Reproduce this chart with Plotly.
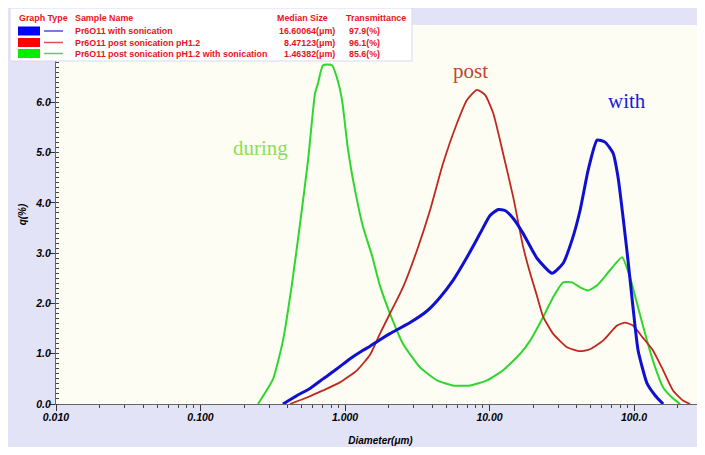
import plotly.graph_objects as go

# ---------------- data ----------------
with_x = [0.372, 0.466, 0.573, 0.705, 0.881, 1.083, 1.333, 1.49, 1.746, 2.047, 2.82, 3.69, 4.54, 5.59,
          6.98, 8.59, 10.08, 11.5, 12.8, 14.6, 17.1, 21.3, 27.1, 32.3, 37.2, 42.3, 48.1, 55.5, 63.0,
          71.6, 77.5, 83.9, 90.8, 98.4, 106.6, 123, 140, 159]
with_y = [0.0, 0.17, 0.31, 0.5, 0.7, 0.9, 1.07, 1.15, 1.28, 1.4, 1.62, 1.85, 2.12, 2.46,
          2.92, 3.39, 3.75, 3.87, 3.85, 3.69, 3.39, 2.9, 2.6, 2.8, 3.26, 3.85, 4.65, 5.25, 5.21,
          4.99, 4.51, 3.72, 2.86, 1.92, 1.07, 0.41, 0.17, 0.0]

post_x = [0.416, 0.546, 0.705, 0.923, 1.21, 1.49, 1.746, 2.047, 2.518, 3.15, 3.87, 4.77, 5.96, 6.98,
          8.19, 9.31, 10.6, 12.4, 14.6, 17.1, 19.1, 21.3, 23.4, 27.5, 34.4, 42.3, 49.6, 61.0, 76.3,
          86.7, 98.4, 115, 135, 159, 186, 218, 244]
post_y = [0.0, 0.13, 0.27, 0.43, 0.67, 0.98, 1.4, 1.8, 2.32, 3.06, 3.85, 4.79, 5.59, 6.05,
          6.25, 6.15, 5.79, 4.99, 4.11, 3.12, 2.6, 2.15, 1.75, 1.4, 1.13, 1.05, 1.09, 1.26, 1.56,
          1.62, 1.56, 1.32, 1.07, 0.67, 0.27, 0.07, 0.0]

during_x = [0.25, 0.318, 0.372, 0.43, 0.489, 0.555, 0.62, 0.65, 0.705, 0.813, 0.881, 0.953, 1.05,
            1.173, 1.333, 1.538, 1.746, 2.047, 2.518, 3.30, 4.33, 5.59, 7.33, 9.61, 12.4, 16.3,
            19.1, 23.4, 27.5, 32.3, 37.2, 42.3, 48.1, 55.5, 68.2, 82.6, 93.8, 106.6, 123, 140,
            159, 183, 208]
during_y = [0.0, 0.5, 1.26, 2.4, 3.6, 4.85, 6.18, 6.38, 6.74, 6.74, 6.48, 6.05, 5.05,
            4.25, 3.52, 2.95, 2.35, 1.8, 1.2, 0.73, 0.47, 0.37, 0.37, 0.47, 0.67, 1.0,
            1.26, 1.72, 2.12, 2.42, 2.42, 2.32, 2.26, 2.36, 2.66, 2.92, 2.52, 1.92, 1.26, 0.73,
            0.33, 0.13, 0.0]

x_tickvals = [0.01, 0.1, 1, 10, 100]
x_ticktext = ["0.010", "0.100", "1.000", "10.00", "100.0"]
y_tickvals = [0, 1, 2, 3, 4, 5, 6]
y_ticktext = ["0.0", "1.0", "2.0", "3.0", "4.0", "5.0", "6.0"]

legend_header = ["Graph Type", "Sample Name", "Median Size", "Transmittance"]
sample_names = ["Pr6O11 with sonication", "Pr6O11 post sonication pH1.2",
                "Pr6O11 post sonication pH1.2 with sonication"]
median_sizes = ["16.60064(μm)", "8.47123(μm)", "1.46382(μm)"]
transmittances = ["97.9(%)", "96.1(%)", "85.6(%)"]

# ---------------- layout geometry (page pixels; page has an 8px body margin) ----------------
OFF = 8
W, H = 697, 439
L, R, T, B = 56 - OFF, 0, 25 - OFF, H - (404 - OFF)
PW, PH = W - L - R, H - T - B

x_minor = [m * 10.0 ** e for e in range(-2, 3) for m in range(2, 10)]


def px(x):
    return (x - OFF - L) / PW


def py(y):
    return (H - B - (y - OFF)) / PH


fig = go.Figure()
fig.add_trace(go.Scatter(x=during_x, y=during_y, mode="lines",
                         line=dict(color="#2ed62e", width=2, shape="spline", smoothing=0.5)))
fig.add_trace(go.Scatter(x=post_x, y=post_y, mode="lines",
                         line=dict(color="#c0281e", width=1.8, shape="spline", smoothing=0.5)))
fig.add_trace(go.Scatter(x=with_x, y=with_y, mode="lines",
                         line=dict(color="#1010d0", width=3, shape="spline", smoothing=0.5)))

tick_font = dict(family="Liberation Sans, Arial", size=10.5, color="black", weight="bold", style="italic")
title_font = dict(family="Liberation Sans, Arial", size=10, color="black", weight="bold", style="italic")

fig.update_layout(
    width=W, height=H,
    margin=dict(l=L, r=R, t=T, b=B, pad=0, autoexpand=False),
    paper_bgcolor="#e3e3f7",
    plot_bgcolor="#fdfdf4",
    showlegend=False,
    xaxis=dict(type="log", range=[-2, 2.491], tickvals=x_tickvals, ticktext=x_ticktext,
               ticks="outside", ticklen=6, tickcolor="#333", showline=True, linecolor="#666",
               showgrid=False, zeroline=False, tickfont=tick_font, ticklabelstandoff=-3,
               minor=dict(tickmode="array", tickvals=x_minor, ticks="outside", ticklen=3,
                          tickcolor="#444", showgrid=False),
               title=dict(text="Diameter(μm)", font=title_font, standoff=15)),
    yaxis=dict(range=[0, 7.54], tickvals=y_tickvals, ticktext=y_ticktext,
               ticks="outside", ticklen=6, tickcolor="#333", showline=True, linecolor="#666",
               showgrid=False, zeroline=False, tickfont=tick_font, ticklabelstandoff=-4,
               minor=dict(tickmode="linear", tick0=0, dtick=0.1, ticks="inside", ticklen=3,
                          tickcolor="#444", showgrid=False),
               title=dict(text="q(%)", font=title_font, standoff=6)),
)

shapes = []
# legend box
shapes.append(dict(type="rect", xref="paper", yref="paper", x0=px(10), x1=px(412), y0=py(61), y1=py(8),
                   fillcolor="white", line=dict(color="#d8d8f0", width=1), layer="above"))
sw_colors = ["#0000ff", "#ff0000", "#00ee00"]
ln_colors = ["#5050c8", "#e05050", "#50d850"]
row_y = [31, 42.5, 53.5]
for c, lc, ry in zip(sw_colors, ln_colors, row_y):
    shapes.append(dict(type="rect", xref="paper", yref="paper", x0=px(18), x1=px(40),
                       y0=py(ry + 4.5), y1=py(ry - 4.5), fillcolor=c, line=dict(width=0), layer="above"))
    shapes.append(dict(type="line", xref="paper", yref="paper", x0=px(44), x1=px(63),
                       y0=py(ry), y1=py(ry), line=dict(color=lc, width=1.5), layer="above"))
fig.update_layout(shapes=shapes)

leg_font = dict(family="Liberation Sans, Arial", size=8.9, color="#e8141c", weight="bold")
ann = []
header_x = [17, 73, 275, 344]
for txt, hx in zip(legend_header, header_x):
    ann.append(dict(text=txt, x=px(hx), y=py(18), xref="paper", yref="paper", xanchor="left",
                    yanchor="middle", showarrow=False, font=leg_font))
for name, med, tr, ry in zip(sample_names, median_sizes, transmittances, row_y):
    ann.append(dict(text=name, x=px(73), y=py(ry), xref="paper", yref="paper", xanchor="left",
                    yanchor="middle", showarrow=False, font=leg_font))
    ann.append(dict(text=med, x=px(337), y=py(ry), xref="paper", yref="paper", xanchor="right",
                    yanchor="middle", showarrow=False, font=leg_font))
    ann.append(dict(text=tr, x=px(347), y=py(ry), xref="paper", yref="paper", xanchor="left",
                    yanchor="middle", showarrow=False, font=leg_font))

serif = "Liberation Serif, Times New Roman"
for txt, cx, cy, col in [("during", 260, 148, "#8ae052"), ("post", 470, 71, "#c0452a"),
                         ("with", 627, 101, "#1a1ad8")]:
    ann.append(dict(text=txt, x=px(cx), y=py(cy), xref="paper", yref="paper", showarrow=False,
                    xanchor="center", yanchor="middle", font=dict(family=serif, size=21, color=col)))
fig.update_layout(annotations=ann)

fig.write_html("out.html")
